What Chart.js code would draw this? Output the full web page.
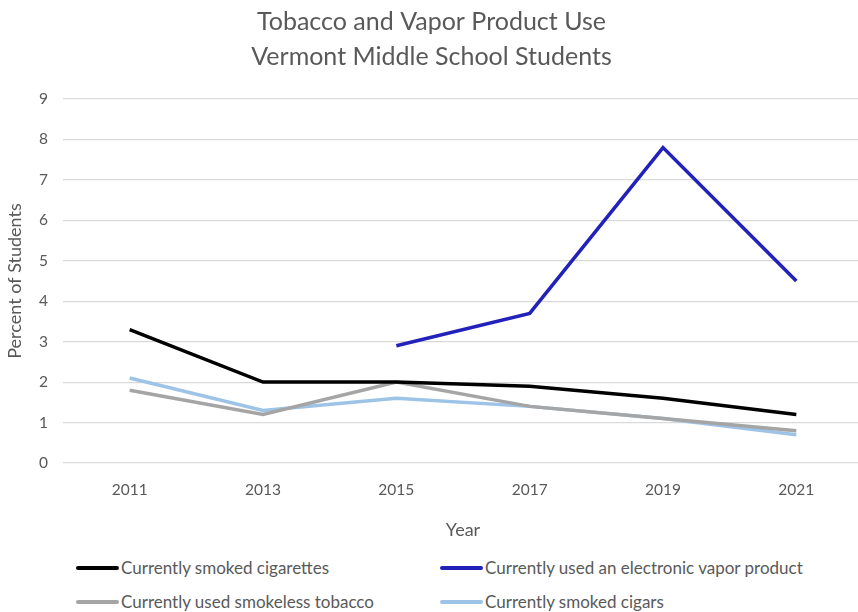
<!DOCTYPE html>
<html>
<head>
<meta charset="utf-8">
<script src="https://cdn.jsdelivr.net/npm/chart.js@4"></script>
<style>
  html, body { margin: 0; padding: 0; background: #fff; overflow: hidden; }
  #wrap { position: relative; width: 858px; height: 612px; overflow: hidden; }
  #box { position: absolute; left: 0; top: 0; width: 866px; height: 545px; }
  #legend { position: absolute; left: 0; top: 552px; width: 858px; height: 60px;
            font-family: Lato, "Liberation Sans", sans-serif; font-size: 17px; color: #595959; }
  .item { position: absolute; display: flex; align-items: center; white-space: nowrap; }
  .swatch { width: 43px; height: 4px; border-radius: 2px; margin-right: 2px; }
</style>
</head>
<body>
<div id="wrap">
  <div id="box"><canvas id="chart"></canvas></div>
  <div id="legend"></div>
</div>
<script>
// Chart data
const years = ['2011', '2013', '2015', '2017', '2019', '2021'];
const cigarettes = [3.3, 2.0, 2.0, 1.9, 1.6, 1.2];
const vapor = [null, null, 2.9, 3.7, 7.8, 4.5];
const smokeless = [1.8, 1.2, 2.0, 1.4, 1.1, 0.8];
const cigars = [2.1, 1.3, 1.6, 1.4, 1.1, 0.7];
const yTicks = [0, 1, 2, 3, 4, 5, 6, 7, 8, 9];

const textColor = '#595959';
const fontFamily = 'Lato, "Liberation Sans", sans-serif';

function line(label, data, color) {
    return {
        label: label,
        data: data,
        borderColor: color,
        backgroundColor: color,
        borderWidth: 3.5,
        pointRadius: 0,
        tension: 0,
        spanGaps: false
    };
}

const chart = new Chart(document.getElementById('chart'), {
    type: 'line',
    data: {
        labels: years,
        datasets: [
            line('Currently smoked cigarettes', cigarettes, '#000000'),
            line('Currently used an electronic vapor product', vapor, '#2222BB'),
            line('Currently used smokeless tobacco', smokeless, '#A5A5A5'),
            line('Currently smoked cigars', cigars, '#9DC3E6')
        ]
    },
    options: {
        responsive: true,
        maintainAspectRatio: false,
        animation: false,
        layout: { padding: { top: 4, right: 3, left: 0, bottom: 0 } },
        plugins: {
            legend: { display: false },
            tooltip: { enabled: false },
            title: {
                display: true,
                text: ['Tobacco and Vapor Product Use', 'Vermont Middle School Students'],
                color: textColor,
                font: { family: fontFamily, size: 25, weight: 'normal', lineHeight: 1.4 },
                padding: { top: 0, bottom: 25 }
            }
        },
        scales: {
            x: {
                offset: true,
                grid: { display: false },
                border: { display: false },
                ticks: { color: textColor, font: { family: fontFamily, size: 15.5 }, padding: 10 },
                title: { display: true, text: 'Year', color: textColor,
                         font: { family: fontFamily, size: 18 }, padding: { top: 4 } },
                afterFit: s => { s.height = 82; }
            },
            y: {
                min: 0,
                max: 9,
                afterBuildTicks: s => { s.ticks = yTicks.map(v => ({ value: v })); },
                grid: { color: '#D9D9D9', lineWidth: 1.2, drawTicks: false },
                border: { display: false },
                ticks: { color: textColor, font: { family: fontFamily, size: 15.5 }, padding: 15 },
                title: { display: true, text: 'Percent of Students', color: textColor,
                         font: { family: fontFamily, size: 18 }, padding: { bottom: 2 } },
                afterFit: s => { s.width = 63; }
            }
        }
    }
});

// Two-column legend built from the datasets
const legendPos = [[76, 16], [440, 16], [76, 50], [440, 50]];
const legendEl = document.getElementById('legend');
chart.data.datasets.forEach((ds, i) => {
    const item = document.createElement('div');
    item.className = 'item';
    item.style.left = legendPos[i][0] + 'px';
    item.style.top = (legendPos[i][1] - 11) + 'px';
    item.innerHTML = '<span class="swatch" style="background:' + ds.borderColor + '"></span>' + ds.label;
    legendEl.appendChild(item);
});
</script>
</body>
</html>
